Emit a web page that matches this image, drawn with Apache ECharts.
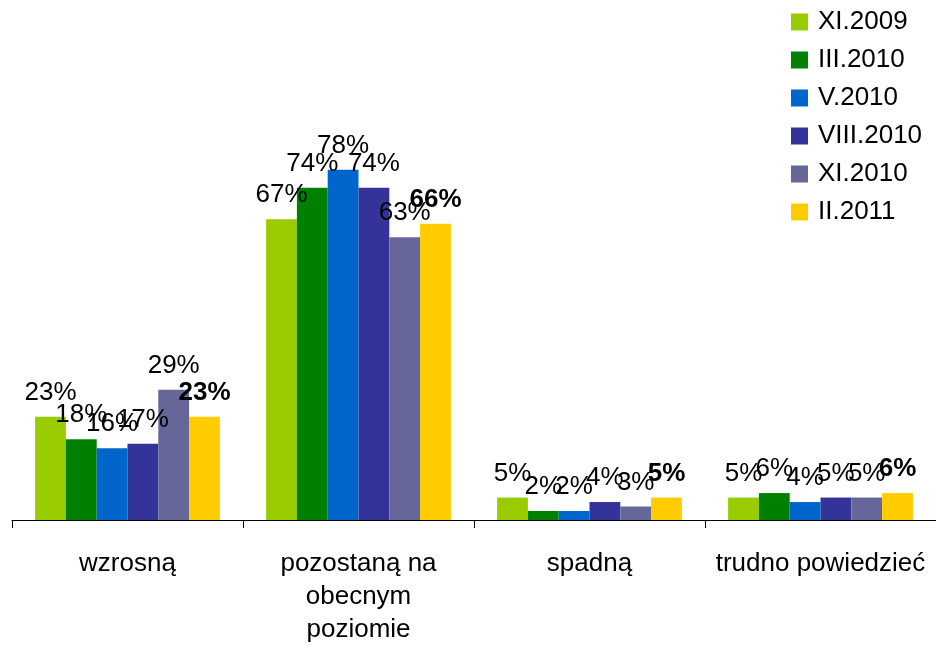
<!DOCTYPE html>
<html>
<head>
<meta charset="utf-8">
<script src="https://cdn.jsdelivr.net/npm/echarts@6/dist/echarts.min.js"></script>
<style>html,body{margin:0;padding:0;background:#fff}#c{width:936px;height:646px}</style>
</head>
<body>
<div id="c"></div>
<script>
const categories = ['wzrosną', 'pozostaną na\nobecnym\npoziomie', 'spadną', 'trudno powiedzieć'];
const seriesNames = ['XI.2009', 'III.2010', 'V.2010', 'VIII.2010', 'XI.2010', 'II.2011'];
const xi2009 = [23, 67, 5, 5];
const iii2010 = [18, 74, 2, 6];
const v2010 = [16, 78, 2, 4];
const viii2010 = [17, 74, 4, 5];
const xi2010 = [29, 63, 3, 5];
const ii2011 = [23, 66, 5, 6];
const seriesData = [xi2009, iii2010, v2010, viii2010, xi2010, ii2011];
const colors = ['#99CC00', '#008000', '#0066CC', '#333399', '#666699', '#FFCC00'];

const FONT = "'Liberation Sans', Arial, sans-serif";
const chart = echarts.init(document.getElementById('c'), null, {renderer: 'canvas'});
chart.setOption({
  animation: false,
  backgroundColor: '#ffffff',
  textStyle: {fontFamily: FONT},
  legend: {
    orient: 'vertical',
    left: 791,
    top: 9,
    padding: 0,
    itemWidth: 17,
    itemHeight: 17,
    itemGap: 12,
    icon: 'rect',
    textStyle: {fontFamily: FONT, fontSize: 26, color: '#000', padding: [0, 0, 0, 5]},
    data: seriesNames
  },
  grid: {left: 12, right: 0, top: 71, bottom: 122, containLabel: false},
  xAxis: {
    type: 'category',
    data: categories,
    axisLine: {lineStyle: {color: '#000', width: 1}},
    axisTick: {show: true, length: 8, lineStyle: {color: '#000'}},
    axisLabel: {color: '#000', fontSize: 26, fontFamily: FONT, margin: 27, lineHeight: 33, interval: 0}
  },
  yAxis: {
    type: 'value', min: 0, max: 100, show: false,
    splitLine: {show: false}
  },
  series: seriesNames.map((name, i) => ({
    name: name,
    type: 'bar',
    data: seriesData[i],
    barGap: '0%',
    barCategoryGap: '20%',
    itemStyle: {color: colors[i]},
    label: {
      show: true,
      position: 'top',
      distance: 11,
      formatter: '{c}%',
      color: '#000',
      fontSize: 26,
      fontFamily: FONT,
      fontWeight: i === 5 ? 'bold' : 'normal'
    }
  }))
});
</script>
</body>
</html>
